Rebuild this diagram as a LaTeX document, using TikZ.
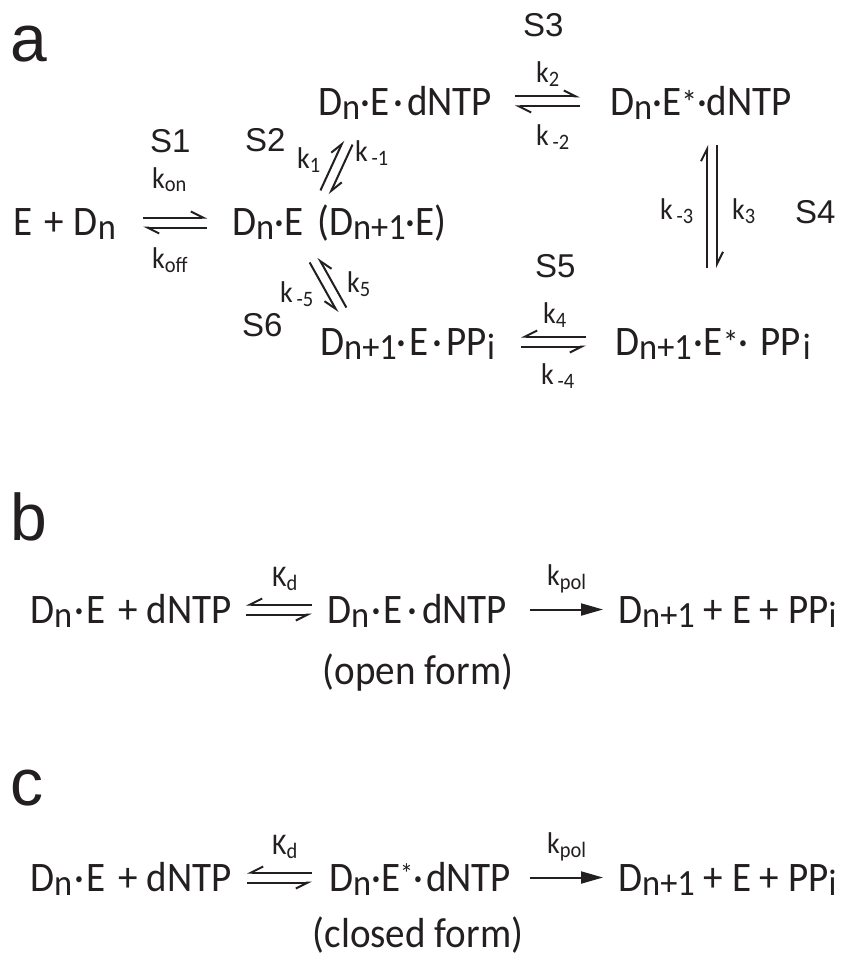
\documentclass[tikz,border=0pt]{standalone}
\usepackage{fontspec}
\setmainfont{Carlito}
\newfontfamily\spfont[FakeStretch=0.93]{Carlito}
\newfontfamily\lblfont{Liberation Sans}
\usetikzlibrary{arrows.meta,calc}
\definecolor{ink}{HTML}{231F20}
% subscripts of species and of rate constants
\newcommand\sbn[1]{\raisebox{-4pt}{\fontsize{37}{37}\selectfont #1}}
\newcommand\rsb[1]{\raisebox{-4pt}{\fontsize{22}{22}\selectfont #1}}
\newcommand\gapdot{\hspace{4pt}·\hspace{4pt}}
\newcommand\thindot{\hspace{2pt}·\hspace{2pt}}
\newcommand\estar{\raisebox{1pt}{\fontsize{34}{34}\selectfont *}}
\newcommand\eqgap{5pt}
% two opposite harpoons between #1 and #2; the one towards #2 lies on the left
\newcommand\eqleft[2]{%
  \draw[harpL] ($(#1)!\eqgap!90:(#2)$) -- ($(#2)!\eqgap!-90:(#1)$);
  \draw[harpL] ($(#2)!\eqgap!90:(#1)$) -- ($(#1)!\eqgap!-90:(#2)$);}
% the same with the harpoon towards #2 on the right
\newcommand\eqright[2]{%
  \draw[harpR] ($(#1)!\eqgap!-90:(#2)$) -- ($(#2)!\eqgap!90:(#1)$);
  \draw[harpR] ($(#2)!\eqgap!-90:(#1)$) -- ($(#1)!\eqgap!90:(#2)$);}
\tikzset{
  species/.style={inner sep=0pt, anchor=base west, text=ink, font=\spfont\fontsize{42}{44}\selectfont},
  rate/.style={inner sep=0pt, anchor=base west, text=ink, font=\spfont\fontsize{30}{32}\selectfont},
  steplabel/.style={inner sep=0pt, anchor=base west, text=ink, font=\lblfont\fontsize{33}{33}\selectfont},
  panel/.style={inner sep=0pt, anchor=base west, text=ink, font=\lblfont\fontsize{66}{66}\selectfont},
  harpL/.style={draw=ink, line width=2pt, -{Straight Barb[left,length=12pt,width=12pt]}},
  harpR/.style={draw=ink, line width=2pt, -{Straight Barb[right,length=12pt,width=12pt]}},
  oneway/.style={draw=ink, line width=2pt, -{Triangle[length=22pt,width=12pt]}},
}
\begin{document}
\begin{tikzpicture}[x=1pt,y=-1pt]
\path[use as bounding box, fill=white] (0,0) rectangle (840,960);

% ---------------- panel a: kinetic cycle ----------------
\node[panel] (pa) at (10,62) {a};

\node[species] (free)  at (13,235)  {E\hspace{12pt}+\hspace{10pt}D\sbn{n}};
\node[species] (bin)   at (232,235) {D\sbn{n}·E\hspace{14pt}(D\sbn{n+1}·E)};
\node[species] (tern)  at (318,116) {D\sbn{n}·E\gapdot dNTP};
\node[species] (ternc) at (610,116) {D\sbn{n}·E\estar·dNTP};
\node[species] (prodc) at (615,355) {D\sbn{n+1}\hspace{2pt}·E\estar·\hspace{12pt}PP\hspace{2pt}\sbn{i}};
\node[species] (prod)  at (320,355) {D\sbn{n+1}·\hspace{3pt}E\gapdot PP\sbn{i}};

% step S1
\coordinate (s1a) at (143,222.5); \coordinate (s1b) at (207,222.5);
\eqleft{s1a}{s1b}
\node[steplabel] (S1) at (150,153) {S1};
\node[rate] (kon)  at (152,188) {k\rsb{on}};
\node[rate] (koff) at (152,268) {k\rsb{off}};

% step S2
\coordinate (s2a) at (325,192.5); \coordinate (s2b) at (348,142.5);
\eqleft{s2a}{s2b}
\node[steplabel] (S2) at (245,152) {S2};
\node[rate] (k1)  at (297,169) {k\rsb{1}};
\node[rate] (km1) at (355,162) {k\rsb{\,-1}};

% step S3
\coordinate (s3a) at (515,101.5); \coordinate (s3b) at (580,101.5);
\eqleft{s3a}{s3b}
\node[steplabel] (S3) at (523,37) {S3};
\node[rate] (k2)  at (536,83)  {k\rsb{2}};
\node[rate] (km2) at (536,146) {k\rsb{\,-2}};

% step S4
\coordinate (s4a) at (712,268); \coordinate (s4b) at (712,145);
\eqleft{s4a}{s4b}
\node[steplabel] (S4) at (795,223) {S4};
\node[rate] (km3) at (660,219) {k\rsb{\,-3}};
\node[rate] (k3)  at (732,219) {k\rsb{3}};

% step S5
\coordinate (s5a) at (521,341.5); \coordinate (s5b) at (586,341.5);
\eqright{s5a}{s5b}
\node[steplabel] (S5) at (535,277) {S5};
\node[rate] (k4)  at (543,323) {k\rsb{4}};
\node[rate] (km4) at (541,384) {k\rsb{\,-4}};

% step S6
\coordinate (s6a) at (314,260); \coordinate (s6b) at (342,310);
\eqright{s6a}{s6b}
\node[steplabel] (S6) at (242,336) {S6};
\node[rate] (km5) at (280,302) {k\rsb{\,-5}};
\node[rate] (k5)  at (347,292) {k\rsb{5}};

% ---------------- panel b: open form ----------------
\node[panel] (pb) at (10,540) {b};
\node[species] (b1) at (30,623)  {D\sbn{n}\thindot E\hspace{13pt}+\hspace{9pt}dNTP};
\node[species] (b2) at (327,623) {D\sbn{n}\thindot E\hspace{5pt}·\hspace{5pt}dNTP};
\node[species] (b3) at (618,623) {D\sbn{n+1} + E + PP\sbn{i}};
\node[species, anchor=base] (bopen) at (418,684) {(open form)};
\coordinate (bka) at (246,609.5); \coordinate (bkb) at (312,609.5);
\eqright{bka}{bkb}
\node[rate] (bkd) at (272,586) {K\rsb{d}};
\coordinate (bpa) at (530,609.5); \coordinate (bpb) at (603,609.5);
\draw[oneway] (bpa) -- (bpb);
\node[rate] (bkp) at (547,585) {k\rsb{pol}};

% ---------------- panel c: closed form ----------------
\node[panel] (pc) at (10,805) {c};
\node[species] (c1) at (30,891)  {D\sbn{n}\thindot E\hspace{13pt}+\hspace{9pt}dNTP};
\node[species] (c2) at (329,891) {D\sbn{n}·E\raisebox{8pt}{\fontsize{28}{28}\selectfont *}·\hspace{3pt}dNTP};
\node[species] (c3) at (618,891) {D\sbn{n+1} + E + PP\sbn{i}};
\node[species, anchor=base] (cclosed) at (418,947) {(closed form)};
\coordinate (cka) at (247,877.5); \coordinate (ckb) at (312,877.5);
\eqright{cka}{ckb}
\node[rate] (ckd) at (272,854) {K\rsb{d}};
\coordinate (cpa) at (530,877.5); \coordinate (cpb) at (603,877.5);
\draw[oneway] (cpa) -- (cpb);
\node[rate] (ckp) at (547,853) {k\rsb{pol}};
\end{tikzpicture}
\end{document}
